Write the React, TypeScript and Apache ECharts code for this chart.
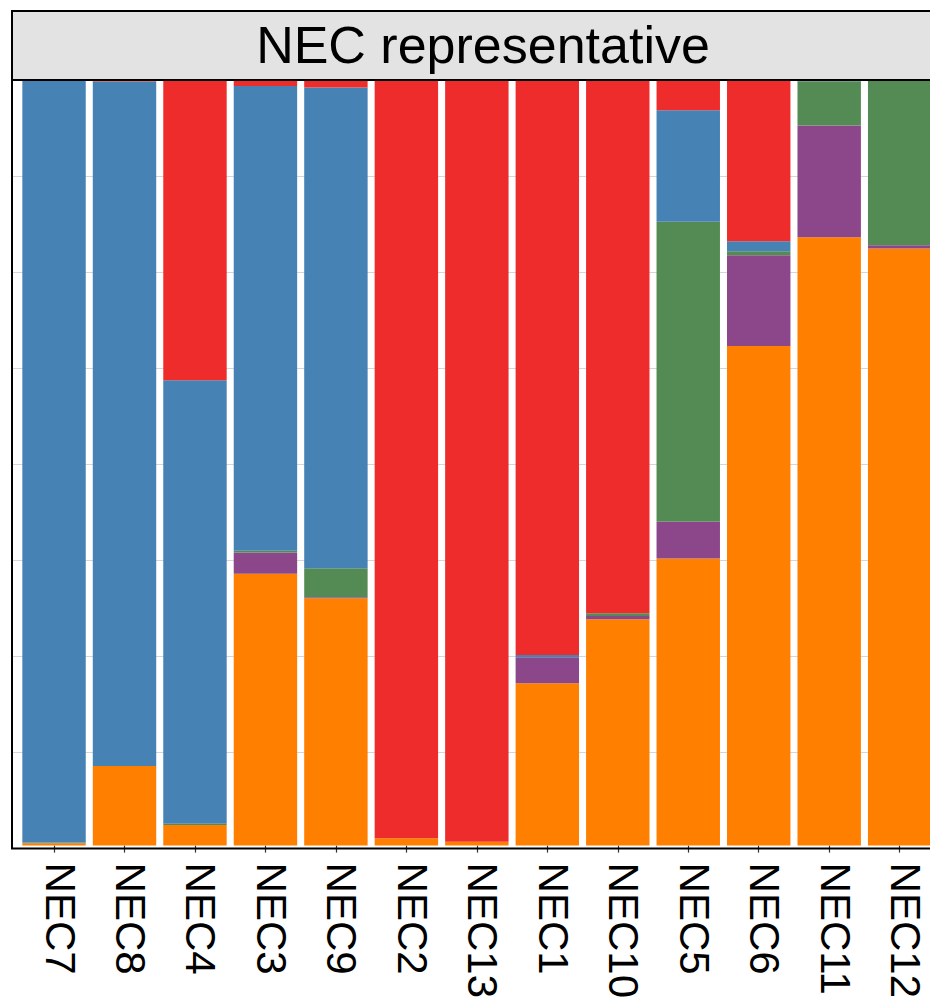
import React, { useEffect, useRef } from "react";
import * as echarts from "echarts";

const categories = ["NEC7", "NEC8", "NEC4", "NEC3", "NEC9", "NEC2", "NEC13", "NEC1", "NEC10", "NEC5", "NEC6", "NEC11", "NEC12"];

// stacked from bottom to top: orange, purple, green, blue, red
const orangeVals = [0.003, 0.104, 0.027, 0.355, 0.323, 0.0095, 0.0052, 0.212, 0.2956, 0.375, 0.6527, 0.7947, 0.78];
const purpleVals = [0, 0, 0, 0.028, 0.0013, 0, 0, 0.034, 0.0043, 0.048, 0.1185, 0.1458, 0.0043];
const greenVals = [0.001, 0, 0.0017, 0.002, 0.038, 0, 0, 0, 0.0035, 0.392, 0.0052, 0.058, 0.2144];
const blueVals = [0.996, 0.894, 0.579, 0.607, 0.628, 0, 0, 0.003, 0, 0.1454, 0.013, 0.0015, 0];
const redVals = [0, 0.002, 0.3923, 0.008, 0.0097, 0.9905, 0.9948, 0.751, 0.6966, 0.0396, 0.2106, 0, 0.0013];

const seriesDefs = [
  { name: "Cluster A", data: orangeVals, color: "#FF7F00" },
  { name: "Cluster B", data: purpleVals, color: "#8B4789" },
  { name: "Cluster C", data: greenVals, color: "#548B54" },
  { name: "Cluster D", data: blueVals, color: "#4682B4" },
  { name: "Cluster E", data: redVals, color: "#EE2C2C" },
];

const stripTitle = "NEC representative";
const FONT = "'Liberation Sans', Arial, Helvetica, sans-serif";

export default function App() {
  const ref = useRef<HTMLDivElement>(null);
  useEffect(() => {
    if (!ref.current) return;
    const chart = echarts.init(ref.current, undefined, { renderer: "svg" });
    chart.setOption({
      animation: false,
      grid: [
        { left: 18.8, right: 25.1, top: 80, bottom: 153, containLabel: false },
        { left: 12, right: 18, top: 80, bottom: 153, containLabel: false },
      ],
      xAxis: [
        {
          type: "category",
          gridIndex: 0,
          data: categories,
          axisLine: { show: false },
          axisTick: { show: true, alignWithLabel: true, length: 7, lineStyle: { color: "#333", width: 1.2 } },
          axisLabel: {
            rotate: -90,
            fontSize: 42,
            margin: 17,
            color: "#000",
            fontFamily: FONT,
            interval: 0,
            verticalAlign: "bottom",
            lineHeight: 12,
          },
          splitLine: { show: false },
        },
        {
          type: "value",
          gridIndex: 1,
          min: 0,
          max: 1,
          show: false,
        },
      ],
      yAxis: [
        { type: "value", gridIndex: 0, min: 0, max: 1, show: false },
        {
          type: "value",
          gridIndex: 1,
          min: 0,
          max: 1,
          interval: 0.125,
          axisLine: { show: false },
          axisTick: { show: false },
          axisLabel: { show: false },
          splitLine: { show: true, lineStyle: { color: "#D6D6D6", width: 1 } },
        },
      ],
      series: seriesDefs.map((s) => ({
        name: s.name,
        type: "bar",
        stack: "total",
        xAxisIndex: 0,
        yAxisIndex: 0,
        barWidth: "90%",
        data: s.data,
        itemStyle: { color: s.color },
        emphasis: { disabled: true },
      })),
      graphic: [
        {
          type: "rect",
          shape: { x: 12, y: 11, width: 960, height: 69 },
          style: { fill: "#E3E3E3", stroke: "#000", lineWidth: 2 },
          z: 100,
        },
        {
          type: "text",
          x: 483,
          y: 45,
          style: {
            text: stripTitle,
            fontSize: 52,
            fontFamily: FONT,
            fill: "#000",
            textAlign: "center",
            textVerticalAlign: "middle",
          },
          z: 101,
        },
        {
          type: "line",
          shape: { x1: 12, y1: 80, x2: 12, y2: 849 },
          style: { stroke: "#000", lineWidth: 2 },
          z: 100,
        },
        {
          type: "line",
          shape: { x1: 11, y1: 848.5, x2: 960, y2: 848.5 },
          style: { stroke: "#000", lineWidth: 2 },
          z: 100,
        },
      ],
    });
    return () => chart.dispose();
  }, []);
  return (
    <div style={{ position: "absolute", left: 0, top: 0, width: 930, height: 1001, overflow: "hidden", background: "#fff" }}>
      <div ref={ref} style={{ width: 960, height: 1001 }} />
    </div>
  );
}
